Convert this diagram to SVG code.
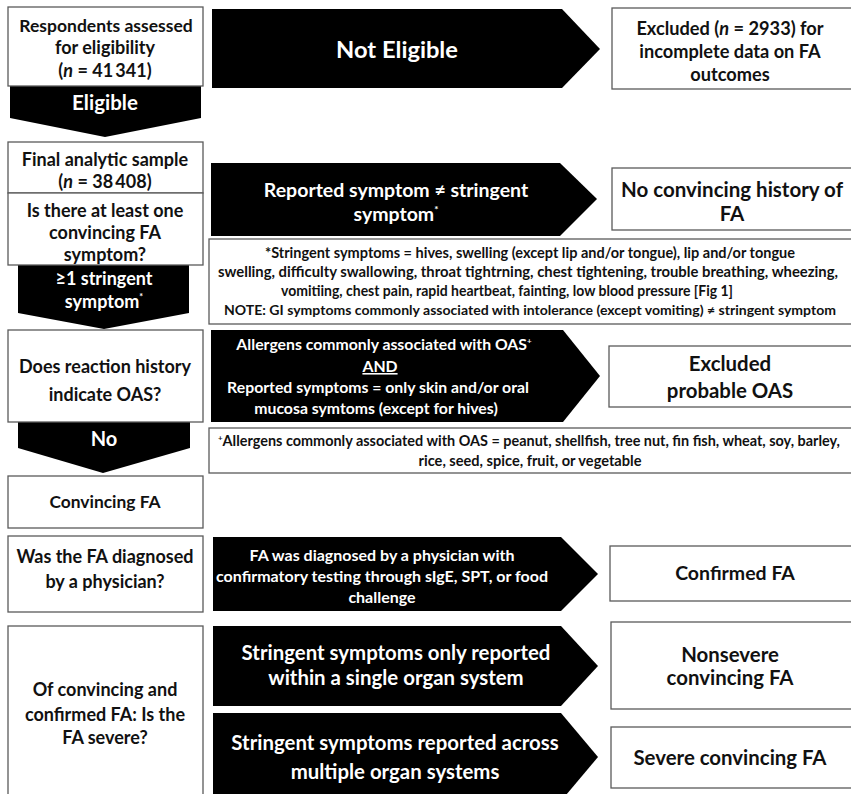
<svg xmlns="http://www.w3.org/2000/svg" width="851" height="794" viewBox="0 0 851 794">
<style>
.box{fill:#fff;stroke:#5a5a5a;stroke-width:1.3}
.arr{fill:#000}
.t{font-family:Lato,"Open Sans","Liberation Sans",sans-serif;font-weight:700;text-anchor:middle;fill:#111}
.w{fill:#fff}
.l{font-size:18px}
.r{font-size:20.4px}
.n{font-size:14.6px}
.m{font-size:15.8px}
</style>
<rect width="851" height="794" fill="#fff"/>
<g id="connectors">
  <polygon id="c-eligible" class="arr" points="10,86 201,86 201,118 105,137 10,118"/>
  <text class="t w" font-size="20.5" x="105" y="110">Eligible</text>
  <polygon id="c-noteligible" class="arr" points="212,9 562,9 600,49 562,88 212,88"/>
  <text class="t w" font-size="23.7" x="397" y="58">Not Eligible</text>
  <polygon id="c-reported" class="arr" points="211,163 560,163 597,199 560,236 211,236"/>
  <text class="t w" font-size="19.5" x="396" y="197">Reported symptom ≠ stringent</text>
  <text class="t w" font-size="19.5" x="396" y="221">symptom<tspan font-size="10" dy="-8">*</tspan></text>
  <polygon id="c-stringent" class="arr" points="18,265 189,265 189,313 104,329 18,313"/>
  <text class="t w" font-size="18" x="104" y="285">≥1 stringent</text>
  <text class="t w" font-size="18" x="104" y="308">symptom<tspan font-size="9" dy="-8">*</tspan></text>
  <polygon id="c-oas" class="arr" points="211,330 563,330 600,376 563,422 211,422"/>
  <text class="t w m" x="384" y="350">Allergens commonly associated with OAS<tspan font-size="8" dy="-6">+</tspan></text>
  <text class="t w m" x="380" y="372" text-decoration="underline">AND</text>
  <text class="t w m" x="378" y="393">Reported symptoms = only skin and/or oral</text>
  <text class="t w m" x="376" y="414">mucosa symtoms (except for hives)</text>
  <polygon id="c-no" class="arr" points="18,422 190,422 190,448 103,473 18,448"/>
  <text class="t w" font-size="20" x="104" y="446">No</text>
  <polygon id="c-diagnosed" class="arr" points="213,537 561,537 598,574 561,611 213,611"/>
  <text class="t w" font-size="16" x="382" y="561">FA was diagnosed by a physician with</text>
  <text class="t w" font-size="16" x="382" y="582">confirmatory testing through sIgE, SPT, or food</text>
  <text class="t w" font-size="16" x="382" y="603">challenge</text>
  <polygon id="c-single" class="arr" points="213,626 561,626 598,666 561,706 213,706"/>
  <text class="t w r" x="396" y="660">Stringent symptoms only reported</text>
  <text class="t w r" x="396" y="685">within a single organ system</text>
  <polygon id="c-multiple" class="arr" points="213,713 561,713 598,757 561,801 213,801"/>
  <text class="t w r" x="395" y="750">Stringent symptoms reported across</text>
  <text class="t w r" x="395" y="779">multiple organ systems</text>
</g>
<g id="n-respondents">
  <rect class="box" x="8" y="7" width="195" height="79"/>
  <text class="t" font-size="17.5" x="106" y="32">Respondents assessed</text>
  <text class="t l" x="105" y="54">for eligibility</text>
  <text class="t l" x="105" y="77">(<tspan font-style="italic">n</tspan> = 41&#8201;341)</text>
</g>
<g id="n-excluded">
  <rect class="box" x="612" y="8" width="240" height="81"/>
  <text class="t" font-size="18.2" x="730" y="35">Excluded (<tspan font-style="italic">n</tspan> = 2933) for</text>
  <text class="t" font-size="18.2" x="730" y="58">incomplete data on FA</text>
  <text class="t" font-size="18.2" x="730" y="81">outcomes</text>
</g>
<g id="n-final">
  <rect class="box" x="8" y="142" width="195" height="51"/>
  <text class="t l" x="105" y="166">Final analytic sample</text>
  <text class="t l" x="105" y="188">(<tspan font-style="italic">n</tspan> = 38&#8201;408)</text>
</g>
<g id="n-question1">
  <rect class="box" x="8" y="193" width="195" height="72"/>
  <text class="t l" x="105" y="217">Is there at least one</text>
  <text class="t l" x="105" y="239">convincing FA</text>
  <text class="t l" x="105" y="261">symptom?</text>
</g>
<g id="n-noconvincing">
  <rect class="box" x="612" y="168" width="240" height="62"/>
  <text class="t" font-size="20.5" x="732" y="197">No convincing history of</text>
  <text class="t" font-size="20.5" x="732" y="221">FA</text>
</g>
<g id="n-stringentnote">
  <rect class="box" x="209" y="239" width="643" height="85"/>
  <text class="t n" x="530" y="258" textLength="530" lengthAdjust="spacingAndGlyphs">*Stringent symptoms = hives, swelling (except lip and/or tongue), lip and/or tongue</text>
  <text class="t n" x="528" y="277" textLength="620" lengthAdjust="spacingAndGlyphs">swelling, difficulty swallowing, throat tightrning, chest tightening, trouble breathing, wheezing,</text>
  <text class="t n" x="507" y="296" textLength="452" lengthAdjust="spacingAndGlyphs">vomitiing, chest pain, rapid heartbeat, fainting, low blood pressure [Fig 1]</text>
  <text class="t" font-size="13.6" x="530" y="315" textLength="612" lengthAdjust="spacingAndGlyphs">NOTE: GI symptoms commonly associated with intolerance (except vomiting) ≠ stringent symptom</text>
</g>
<g id="n-oasq">
  <rect class="box" x="8" y="330" width="195" height="92"/>
  <text class="t l" x="105" y="373">Does reaction history</text>
  <text class="t l" x="105" y="401">indicate OAS?</text>
</g>
<g id="n-excludedoas">
  <rect class="box" x="609" y="346" width="243" height="61"/>
  <text class="t r" x="730" y="371">Excluded</text>
  <text class="t r" x="730" y="398">probable OAS</text>
</g>
<g id="n-oasnote">
  <rect class="box" x="209" y="428" width="643" height="45"/>
  <text class="t n" x="529" y="446" textLength="622" lengthAdjust="spacingAndGlyphs"><tspan font-size="8" dy="-5">+</tspan><tspan dy="5">Allergens commonly associated with OAS = peanut, shellfish, tree nut, fin fish, wheat, soy, barley,</tspan></text>
  <text class="t n" x="530" y="466">rice, seed, spice, fruit, or vegetable</text>
</g>
<g id="n-convincing">
  <rect class="box" x="8" y="476" width="195" height="52"/>
  <text class="t" font-size="17.4" x="105" y="508">Convincing FA</text>
</g>
<g id="n-diagq">
  <rect class="box" x="8" y="536" width="195" height="76"/>
  <text class="t l" x="105" y="563">Was the FA diagnosed</text>
  <text class="t l" x="105" y="588">by a physician?</text>
</g>
<g id="n-confirmed">
  <rect class="box" x="610" y="546" width="242" height="55"/>
  <text class="t" font-size="19.5" x="735" y="580">Confirmed FA</text>
</g>
<g id="n-severeq">
  <rect class="box" x="8" y="626" width="195" height="180"/>
  <text class="t l" x="105" y="696">Of convincing and</text>
  <text class="t l" x="105" y="721">confirmed FA: Is the</text>
  <text class="t l" x="105" y="744">FA severe?</text>
</g>
<g id="n-nonsevere">
  <rect class="box" x="611" y="622" width="241" height="87"/>
  <text class="t r" x="730" y="662">Nonsevere</text>
  <text class="t r" x="730" y="685">convincing FA</text>
</g>
<g id="n-severe">
  <rect class="box" x="611" y="727" width="241" height="61"/>
  <text class="t r" x="730" y="765">Severe convincing FA</text>
</g>
</svg>
